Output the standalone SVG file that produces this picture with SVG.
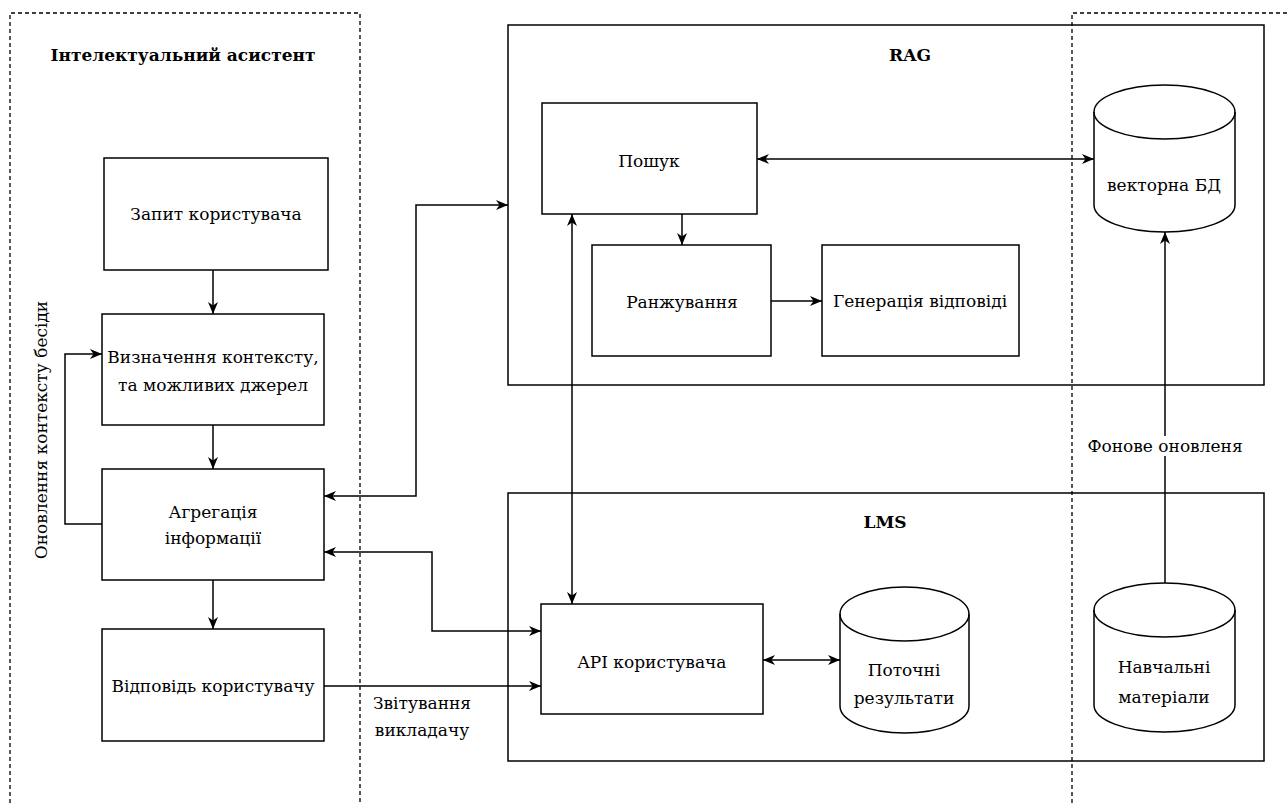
<svg xmlns="http://www.w3.org/2000/svg" width="1287" height="805" viewBox="0 0 1287 805">
<style>
text{font-family:"DejaVu Serif",serif;font-size:17px;fill:#000;text-anchor:middle;dominant-baseline:central}
.b{font-weight:bold}
.box{fill:#fff;stroke:#000;stroke-width:1.5}
.grp{fill:none;stroke:#000;stroke-width:1.5}
.dash{fill:none;stroke:#000;stroke-width:1.3;stroke-dasharray:4 3}
.c{fill:none;stroke:#000;stroke-width:1.5}
</style>
<defs>
<marker id="ar" viewBox="0 0 12 10" refX="12" refY="5" markerWidth="12" markerHeight="10" markerUnits="userSpaceOnUse" orient="auto-start-reverse">
<path d="M0,0 L12,5 L0,10 L3.5,5 z" fill="#000"/>
</marker>
</defs>
<rect width="1287" height="805" fill="#fff"/>
<g id="assistant-zone">
<path class="dash" d="M10,810 V13 H360 V810"/>
<text class="b" x="183" y="55">Інтелектуальний асистент</text>
</g>
<g id="rag">
<rect class="grp" x="508" y="25" width="756" height="360"/>
<text class="b" x="910" y="55">RAG</text>
</g>
<g id="lms">
<rect class="grp" x="508" y="493" width="756" height="268"/>
<text class="b" x="885" y="522">LMS</text>
</g>
<g id="storage-zone">
<path class="dash" d="M1072,810 V13 H1290"/>
</g>
<g id="n-query"><rect class="box" x="104" y="158" width="224" height="112"/><text x="216" y="214">Запит користувача</text></g>
<g id="n-context"><rect class="box" x="102" y="314" width="222" height="111"/><text x="213" y="357">Визначення контексту,</text><text x="213" y="385">та можливих джерел</text></g>
<g id="n-aggr"><rect class="box" x="102" y="469" width="222" height="111"/><text x="213" y="512">Агрегація</text><text x="213" y="538">інформації</text></g>
<g id="n-answer"><rect class="box" x="102" y="629" width="222" height="112"/><text x="213" y="686">Відповідь користувачу</text></g>
<g id="n-search"><rect class="box" x="542" y="103" width="215" height="111"/><text x="649" y="161">Пошук</text></g>
<g id="n-rank"><rect class="box" x="592" y="245" width="179" height="111"/><text x="682" y="302">Ранжування</text></g>
<g id="n-gen"><rect class="box" x="822" y="245" width="197" height="111"/><text x="920" y="301">Генерація відповіді</text></g>
<g id="n-api"><rect class="box" x="541" y="604" width="222" height="110"/><text x="652" y="662">API користувача</text></g>
<g id="n-vdb">
<path class="box" d="M1094,112 A70.5,27 0 0 1 1235,112 V205 A70.5,27 0 0 1 1094,205 Z"/>
<path class="c" d="M1094,112 A70.5,27 0 0 0 1235,112"/>
<text x="1164" y="185">векторна БД</text>
</g>
<g id="n-results">
<path class="box" d="M840,614 A64.5,27 0 0 1 969,614 V706 A64.5,27 0 0 1 840,706 Z"/>
<path class="c" d="M840,614 A64.5,27 0 0 0 969,614"/>
<text x="904" y="670">Поточні</text><text x="904" y="698">результати</text>
</g>
<g id="n-materials">
<path class="box" d="M1094,610 A70.5,27 0 0 1 1235,610 V705 A70.5,27 0 0 1 1094,705 Z"/>
<path class="c" d="M1094,610 A70.5,27 0 0 0 1235,610"/>
<text x="1164" y="667">Навчальні</text><text x="1164" y="697">матеріали</text>
</g>
<g id="connectors">
<path class="c" d="M213,270 V314" marker-end="url(#ar)"/>
<path class="c" d="M213,425 V469" marker-end="url(#ar)"/>
<path class="c" d="M213,580 V629" marker-end="url(#ar)"/>
<path class="c" d="M102,524 H65 V354 H102" marker-end="url(#ar)"/>
<path class="c" d="M324,496 H416 V205 H508" marker-start="url(#ar)" marker-end="url(#ar)"/>
<path class="c" d="M324,552 H432 V631 H541" marker-start="url(#ar)" marker-end="url(#ar)"/>
<path class="c" d="M324,686 H541" marker-end="url(#ar)"/>
<path class="c" d="M572,214 V604" marker-start="url(#ar)" marker-end="url(#ar)"/>
<path class="c" d="M682,214 V245" marker-end="url(#ar)"/>
<path class="c" d="M771,301 H822" marker-end="url(#ar)"/>
<path class="c" d="M757,159 H1094" marker-start="url(#ar)" marker-end="url(#ar)"/>
<path class="c" d="M763,660 H840" marker-start="url(#ar)" marker-end="url(#ar)"/>
<path class="c" d="M1165,583 V232" marker-end="url(#ar)"/>
<rect x="1090" y="436" width="150" height="20" fill="#fff"/>
<text x="1165" y="446" font-size="16">Фонове оновленя</text>
<text x="422" y="703">Звітування</text>
<text x="422" y="730">викладачу</text>
<text x="41" y="430" font-size="20" transform="rotate(-90 41 430)">Оновлення контексту бесіди</text>
</g>
</svg>
